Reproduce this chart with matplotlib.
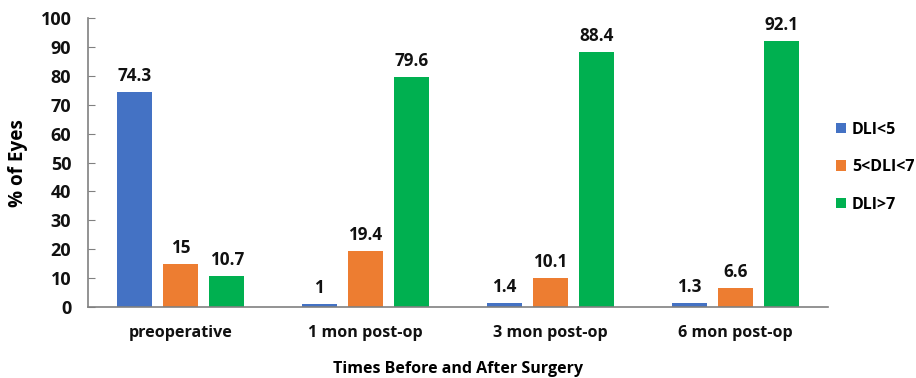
import numpy as np
import matplotlib
matplotlib.use("Agg")
import matplotlib.pyplot as plt

plt.rcParams['font.family'] = ['Open Sans', 'DejaVu Sans']
plt.rcParams['font.weight'] = 'bold'

# Percentage of eyes per DLI group at each time point
categories = ['preoperative', '1 mon post-op', '3 mon post-op', '6 mon post-op']
series_names = ['DLI<5', '5<DLI<7', 'DLI>7']
dli_low = [74.3, 1, 1.4, 1.3]
dli_mid = [15, 19.4, 10.1, 6.6]
dli_high = [10.7, 79.6, 88.4, 92.1]
colors = ['#4472C4', '#ED7D31', '#00B050']

fig = plt.figure(figsize=(9.16, 3.78), dpi=100)
ax = fig.add_axes([0.0961, 0.1878, 0.808, 0.764])

x = np.arange(len(categories))
width = 0.19
step = 0.25

for i, (vals, name, col) in enumerate(zip([dli_low, dli_mid, dli_high], series_names, colors)):
    pos = x + (i - 1) * step
    bars = ax.bar(pos, vals, width, color=col, label=name)
    for b, v in zip(bars, vals):
        ax.annotate(f'{v:g}', (b.get_x() + b.get_width() / 2, v),
                    xytext=(0, 5), textcoords='offset points',
                    ha='center', va='bottom', fontsize=12.3, fontweight='bold',
                    color='#111111')

ax.set_xlim(-0.5, len(categories) - 0.5)
ax.set_ylim(0, 100)
ax.set_yticks(range(0, 101, 10))
ax.set_xticks(x)
ax.set_xticklabels(categories)

for s in ['top', 'right']:
    ax.spines[s].set_visible(False)
for s in ['left', 'bottom']:
    ax.spines[s].set_color('#808080')
    ax.spines[s].set_linewidth(1.2)

ax.tick_params(axis='y', direction='in', length=5, color='#808080',
               labelsize=13, pad=12, labelcolor='#111111')
ax.tick_params(axis='x', length=0, labelsize=11.6, pad=13, labelcolor='#111111')
for lab in ax.get_xticklabels() + ax.get_yticklabels():
    lab.set_fontweight('bold')

ax.set_ylabel('% of Eyes', fontsize=13.6, fontweight='bold', labelpad=9)
ax.set_xlabel('Times Before and After Surgery', fontsize=11.5, fontweight='bold', labelpad=14)

leg = ax.legend(loc='upper left', bbox_to_anchor=(1.0, 0.67), frameon=False,
                borderaxespad=0.3, borderpad=0.2,
                handlelength=0.6, handleheight=0.6, handletextpad=0.4,
                labelspacing=1.35, prop={'size': 11.5, 'weight': 'bold'})

fig.savefig('out.png', dpi=100)
